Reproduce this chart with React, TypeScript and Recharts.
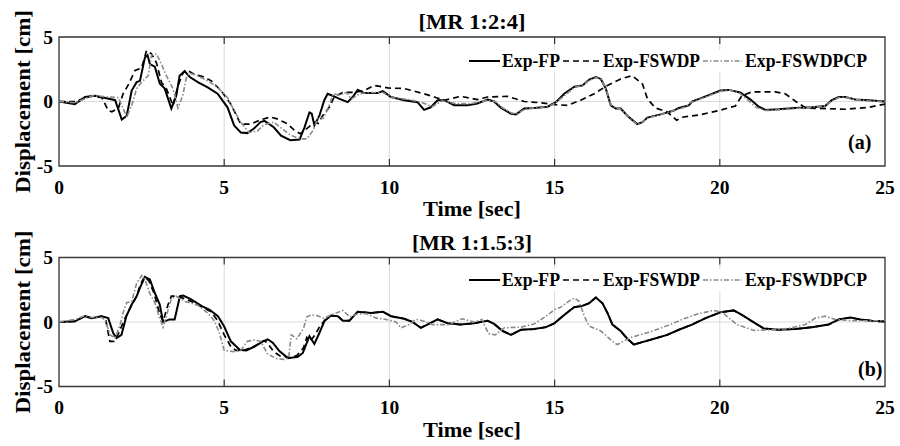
import { CartesianGrid, Legend, Line, LineChart, ReferenceArea, ReferenceLine, XAxis, YAxis } from "recharts";

const serif = "'Liberation Serif', 'Times New Roman', serif";

const xTicks = [0, 5, 10, 15, 20, 25];
const yTicks = [-5, 0, 5];

// [time s, displacement cm]
const topFP: [number, number][] = [
  [0, 0], [0.48, -0.2], [0.79, 0.35], [1.09, 0.45], [1.44, 0.25], [1.7, 0.1], [1.9, -1.4], [2.05, -1.1],
  [2.2, 0.85], [2.35, 1.5], [2.45, 1.6], [2.6, 3.4], [2.68, 3.6], [2.75, 2.9], [2.9, 2.7], [3.05, 1.4],
  [3.2, 1.0], [3.4, -0.55], [3.55, 0.45], [3.65, 2.0], [3.8, 2.35], [3.96, 1.9], [4.2, 1.5], [4.5, 1.1],
  [4.8, 0.6], [5.1, -0.45], [5.3, -1.85], [5.5, -2.4], [5.7, -2.45], [5.9, -2.1], [6.1, -1.6], [6.22, -1.5],
  [6.5, -2.0], [6.72, -2.65], [7.0, -3.0], [7.28, -2.95], [7.43, -2.0], [7.58, -0.85], [7.65, -0.95],
  [7.73, -1.85], [7.88, -1.1], [8.03, 0.1], [8.13, 0.6], [8.28, 0.45], [8.49, 0.2], [8.74, -0.05],
  [8.89, 0.35], [9.04, 0.9], [9.24, 0.65], [9.64, 0.65], [9.8, 0.8], [10.05, 0.35], [10.45, 0.1],
  [10.85, -0.05], [11.05, -0.65], [11.25, -0.45], [11.46, 0.1], [11.66, 0.1], [11.96, -0.3], [12.36, -0.3],
  [12.66, -0.15], [12.97, 0.15], [13.17, 0], [13.38, -0.5], [13.68, -0.95], [13.83, -1.0], [14.08, -0.55],
  [14.38, -0.5], [14.79, -0.4], [15.04, -0.05], [15.29, 0.6], [15.6, 1.15], [15.85, 1.25], [16.05, 1.7],
  [16.25, 1.9], [16.4, 1.75], [16.55, 1.0], [16.7, -0.3], [16.85, -0.55], [17.0, -0.55], [17.2, -1.1],
  [17.5, -1.75], [17.66, -1.6], [17.81, -1.25], [18.21, -1.0], [18.61, -0.7], [18.76, -0.5], [19.06, -0.3],
  [19.16, 0], [19.57, 0.4], [20.02, 0.85], [20.27, 0.9], [20.62, 0.7], [20.93, 0.15], [21.18, -0.4],
  [21.38, -0.65], [21.78, -0.6], [22.28, -0.5], [22.79, -0.45], [23.19, -0.35], [23.39, 0.1], [23.6, 0.35],
  [23.8, 0.35], [24.1, 0.15], [24.5, 0.1], [25, 0],
];

const topFSWDP: [number, number][] = [
  [0, 0], [0.5, 0], [1.0, 0.45], [1.3, 0.3], [1.49, -0.7], [1.6, -0.8], [1.8, -0.5], [1.94, 0.6], [2.1, 1.3],
  [2.3, 2.4], [2.5, 2.6], [2.65, 3.95], [2.8, 3.7], [2.95, 3.0], [3.1, 1.5], [3.25, 1.0], [3.45, -0.3],
  [3.6, 1.2], [3.75, 2.2], [3.86, 2.45], [4.1, 2.1], [4.4, 1.9], [4.61, 1.6], [4.9, 0.85], [5.2, -0.2],
  [5.5, -1.75], [5.8, -1.75], [6.12, -1.4], [6.4, -1.2], [6.6, -1.35], [6.9, -1.7], [7.13, -2.25], [7.3, -2.5],
  [7.5, -2.1], [7.73, -1.6], [7.85, -1.7], [7.98, -1.1], [8.18, -0.45], [8.33, 0.35], [8.59, 0.7], [8.94, 0.7],
  [9.24, 0.85], [9.54, 1.25], [9.95, 1.05], [10.45, 1.0], [11.05, 0.6], [11.36, 0.35], [11.66, 0.1],
  [12.16, 0.4], [12.66, 0.15], [12.97, 0.35], [13.58, 0.4], [14.08, 0], [14.6, -0.1], [15.04, -0.25],
  [15.39, -0.3], [15.79, 0.1], [16.2, 0.6], [16.6, 1.25], [17.0, 1.75], [17.35, 2.0], [17.66, 1.35],
  [17.81, 0.2], [18.05, -0.5], [18.41, -0.8], [18.69, -1.45], [18.9, -1.2], [19.36, -1.05], [19.97, -0.7],
  [20.47, -0.35], [20.67, 0.45], [20.98, 0.75], [21.68, 0.75], [21.98, 0.6], [22.3, 0.0], [22.6, -0.5],
  [23.8, -0.6], [24.5, -0.45], [25, -0.2],
];

const topFSWDPCP: [number, number][] = [
  [0, 0], [0.5, -0.1], [1.0, 0.45], [1.5, 0.35], [1.8, 0.3], [2.05, -1.2], [2.2, -0.3], [2.35, 1.0], [2.5, 1.5],
  [2.7, 2.0], [2.8, 3.6], [2.95, 3.7], [3.1, 2.9], [3.25, 2.0], [3.45, 1.0], [3.6, -0.5], [3.75, 0.5],
  [3.85, 1.8], [3.95, 2.2], [4.2, 2.0], [4.5, 1.6], [4.8, 1.1], [5.1, 0.3], [5.3, -0.7], [5.5, -1.6],
  [5.75, -2.4], [6.0, -2.3], [6.2, -1.8], [6.5, -1.6], [6.75, -2.1], [7.0, -2.6], [7.3, -2.9], [7.5, -2.9],
  [7.7, -2.2], [7.85, -1.2], [8.0, -1.3], [8.15, -0.5], [8.3, 0.6], [8.5, 0.5], [8.7, 0.7], [8.85, 0.2],
  [9.1, 0.6], [9.4, 0.7], [9.8, 0.7], [10.1, 0.3], [10.6, 0.15], [11.0, -0.1], [11.3, -0.4], [11.6, 0.05],
  [12.0, -0.15], [12.5, -0.15], [12.97, 0.1], [13.2, 0], [13.4, -0.45], [13.7, -0.9], [13.85, -0.95],
  [14.1, -0.6], [14.4, -0.5], [14.8, -0.4], [15.0, -0.15], [15.3, 0.45], [15.6, 1.1], [15.85, 1.25],
  [16.05, 1.65], [16.25, 1.85], [16.4, 1.75], [16.55, 1.0], [16.7, -0.25], [16.85, -0.5], [17.0, -0.6],
  [17.2, -1.1], [17.5, -1.8], [17.66, -1.6], [17.81, -1.3], [18.21, -1.0], [18.61, -0.7], [19.0, -0.4],
  [19.1, -0.1], [19.57, 0.35], [20.02, 0.8], [20.27, 0.9], [20.6, 0.65], [20.85, 0.1], [21.1, -0.45],
  [21.38, -0.7], [21.78, -0.65], [22.28, -0.55], [22.79, -0.45], [23.19, -0.35], [23.39, 0.05], [23.6, 0.3],
  [23.8, 0.35], [24.1, 0.15], [24.5, 0.05], [25, 0],
];

const botFP: [number, number][] = [
  [0, 0], [0.48, 0.05], [0.79, 0.45], [0.99, 0.3], [1.29, 0.45], [1.49, 0.3], [1.64, -0.85], [1.74, -1.25],
  [1.89, -1.0], [2.04, 0.45], [2.2, 1.35], [2.35, 2.0], [2.45, 2.65], [2.6, 3.5], [2.75, 3.3], [2.9, 2.25],
  [3.05, 1.35], [3.15, 0], [3.35, 0.2], [3.5, 0.2], [3.66, 2.0], [3.76, 2.05], [4.0, 1.75], [4.31, 1.25],
  [4.56, 0.95], [4.81, 0.45], [5.0, -0.35], [5.2, -1.5], [5.47, -2.15], [5.67, -2.2], [5.92, -1.9],
  [6.17, -1.5], [6.32, -1.35], [6.47, -1.6], [6.67, -2.25], [6.93, -2.8], [7.23, -2.7], [7.38, -2.4],
  [7.58, -1.1], [7.73, -1.7], [7.88, -0.85], [8.03, 0.05], [8.23, 0.5], [8.44, 0.45], [8.59, 0.1],
  [8.79, 0.1], [9.04, 0.8], [9.44, 0.7], [9.8, 0.8], [10.05, 0.45], [10.45, 0.25], [10.7, 0], [10.95, -0.45],
  [11.15, -0.2], [11.46, 0.2], [11.76, -0.1], [12.16, -0.2], [12.56, -0.1], [12.97, 0.1], [13.17, -0.15],
  [13.43, -0.7], [13.68, -1.0], [13.98, -0.6], [14.38, -0.55], [14.74, -0.4], [14.99, -0.1], [15.29, 0.55],
  [15.59, 1.15], [15.84, 1.25], [16.04, 1.45], [16.25, 1.9], [16.45, 1.45], [16.6, 0.7], [16.75, -0.2],
  [17.0, -0.7], [17.2, -1.3], [17.4, -1.75], [17.6, -1.6], [18.01, -1.3], [18.41, -1.0], [18.76, -0.6],
  [19.16, -0.2], [19.57, 0.3], [20.02, 0.75], [20.42, 0.9], [20.67, 0.55], [20.98, 0.05], [21.33, -0.5],
  [21.78, -0.6], [22.28, -0.55], [22.79, -0.4], [23.29, -0.2], [23.6, 0.2], [23.95, 0.35], [24.25, 0.2],
  [24.6, 0.1], [25, 0.05],
];

const botFSWDP: [number, number][] = [
  [0, 0], [0.48, 0.05], [0.79, 0.45], [0.99, 0.3], [1.29, 0.45], [1.42, 0.1], [1.54, -1.5], [1.66, -1.5],
  [1.8, -0.9], [2.0, 0.3], [2.2, 1.3], [2.35, 2.0], [2.45, 2.8], [2.58, 3.5], [2.72, 3.2], [2.88, 2.2],
  [3.05, 0.6], [3.15, 0.05], [3.3, 1.35], [3.4, 2.0], [3.6, 2.0], [4.0, 1.6], [4.3, 1.2], [4.6, 0.8],
  [4.8, 0.1], [5.0, -1.0], [5.2, -1.9], [5.35, -2.2], [5.6, -2.2], [5.9, -1.9], [6.2, -1.45], [6.3, -1.6],
  [6.5, -2.3], [6.7, -2.65], [7.0, -2.75], [7.2, -2.6], [7.4, -2.0], [7.5, -1.2], [7.6, -1.5], [7.75, -1.0],
  [7.9, -0.3], [8.1, 0.3], [8.23, 0.5], [8.44, 0.45], [8.59, 0.1], [8.79, 0.1], [9.04, 0.8], [9.44, 0.7],
  [9.8, 0.8], [10.05, 0.45], [10.45, 0.25], [10.7, 0], [10.95, -0.45], [11.15, -0.2], [11.46, 0.2],
  [11.76, -0.1], [12.16, -0.2], [12.56, -0.1], [12.97, 0.1], [13.17, -0.15], [13.43, -0.7], [13.68, -1.0],
  [13.98, -0.6], [14.38, -0.55], [14.74, -0.4], [14.99, -0.1], [15.29, 0.55], [15.59, 1.15], [15.84, 1.25],
  [16.04, 1.45], [16.25, 1.9], [16.45, 1.45], [16.6, 0.7], [16.75, -0.2], [17.0, -0.7], [17.2, -1.3],
  [17.4, -1.75], [17.6, -1.6], [18.01, -1.3], [18.41, -1.0], [18.76, -0.6], [19.16, -0.2], [19.57, 0.3],
  [20.02, 0.75], [20.42, 0.9], [20.67, 0.55], [20.98, 0.05], [21.33, -0.5], [21.78, -0.6], [22.28, -0.55],
  [22.79, -0.4], [23.29, -0.2], [23.6, 0.2], [23.95, 0.35], [24.25, 0.2], [24.6, 0.1], [25, 0.05],
];

const botFSWDPCP: [number, number][] = [
  [0, 0], [0.5, 0.2], [0.8, 0.5], [1.0, 0.35], [1.3, 0.35], [1.4, 0.1], [1.55, -1.0], [1.7, -1.25],
  [1.85, -0.2], [1.95, 0.8], [2.05, 1.5], [2.2, 1.6], [2.35, 3.0], [2.5, 3.6], [2.6, 3.3], [2.75, 2.2],
  [2.9, 1.5], [3.05, 0.3], [3.15, -0.4], [3.3, 0.9], [3.4, 1.8], [3.55, 2.0], [3.8, 1.6], [4.2, 1.3],
  [4.5, 0.7], [4.7, 0.1], [4.85, -0.8], [5.0, -2.2], [5.3, -2.3], [5.5, -2.2], [5.7, -1.5], [5.9, -1.4],
  [6.1, -1.5], [6.32, -2.5], [6.6, -2.85], [6.8, -2.9], [6.95, -2.8], [7.03, -1.0], [7.2, -1.3], [7.4, -0.5],
  [7.5, 0.4], [7.65, 0.55], [7.8, 0.5], [8.0, 0.3], [8.2, 0.5], [8.59, 0.9], [8.8, 0.4], [9.0, 0.6],
  [9.3, 0.65], [9.6, 0.3], [9.9, 0.2], [10.2, 0.0], [10.35, -0.45], [10.6, -0.2], [10.8, 0.2], [11.0, 0.1],
  [11.3, -0.2], [11.8, -0.2], [12.2, 0.25], [12.57, 0.0], [12.8, 0.2], [13.0, -0.9], [13.2, -1.0],
  [13.48, -0.45], [13.98, -0.4], [14.38, -0.15], [14.74, 0.45], [14.99, 0.95], [15.19, 1.15], [15.5, 1.75],
  [15.6, 1.85], [15.74, 1.6], [15.9, 0.45], [16.04, -0.3], [16.4, -0.7], [16.8, -1.6], [16.9, -1.75],
  [17.3, -1.2], [17.85, -0.8], [18.4, -0.3], [18.86, 0.2], [19.3, 0.6], [19.8, 0.9], [20.07, 0.75],
  [20.52, -0.2], [21.03, -0.65], [21.58, -0.6], [22.08, -0.5], [22.59, -0.2], [22.89, 0.3], [23.19, 0.45],
  [23.49, 0.2], [24.0, 0.1], [25, 0.1],
];

const seriesStyle = [
  { name: "Exp-FP", stroke: "#000", dash: undefined, width: 2 },
  { name: "Exp-FSWDP", stroke: "#000", dash: "6 4", width: 1.7 },
  { name: "Exp-FSWDPCP", stroke: "#8a8a8a", dash: "5 2 1.5 2", width: 1.6 },
];

const toRows = (pts: [number, number][]) => pts.map(([t, v]) => ({ t, v }));

function LegendBox() {
  // sample line, then label, for each series
  const items = [
    { ...seriesStyle[0], x1: 2, x2: 33, tx: 35, w: 58 },
    { ...seriesStyle[1], x1: 96, x2: 133, tx: 136, w: 97 },
    { ...seriesStyle[2], x1: 236, x2: 275, tx: 278, w: 122 },
  ];
  return (
    <svg width={410} height={22} style={{ display: "block", background: "#fff" }}>
      {items.map((it) => (
        <g key={it.name}>
          <line x1={it.x1} x2={it.x2} y1={11} y2={11} stroke={it.stroke} strokeWidth={it.width} strokeDasharray={it.dash} />
          <text x={it.tx} y={17} fontFamily={serif} fontWeight="bold" fontSize={18} fill="#000" textLength={it.w} lengthAdjust="spacingAndGlyphs">
            {it.name}
          </text>
        </g>
      ))}
    </svg>
  );
}

function Panel({ series, top, legendTop }: { series: [number, number][][]; top: number; legendTop: number }) {
  const plotH = 129;
  return (
    <LineChart width={900} height={223} margin={{ top, right: 15, left: 0, bottom: 0 }}>
      <CartesianGrid stroke="#dadada" strokeWidth={1} />
      <XAxis
        dataKey="t"
        type="number"
        domain={[0, 25]}
        ticks={xTicks}
        axisLine={false}
        tickLine={false}
        tickSize={0}
        tickMargin={14}
        height={223 - top - plotH}
        tick={{ fontFamily: serif, fontWeight: "bold", fontSize: 19.5, fill: "#000" }}
        allowDataOverflow
      />
      <YAxis
        type="number"
        domain={[-5, 5]}
        ticks={yTicks}
        axisLine={false}
        tickLine={false}
        tickSize={0}
        tickMargin={6}
        width={59}
        interval={0}
        tick={{ fontFamily: serif, fontWeight: "bold", fontSize: 19.5, fill: "#000" }}
      />
      {xTicks.slice(1, -1).map((x) => (
        <ReferenceLine key={`tt${x}`} segment={[{ x, y: 5 }, { x, y: 4.45 }]} stroke="#333" strokeWidth={1.2} />
      ))}
      {xTicks.slice(1, -1).map((x) => (
        <ReferenceLine key={`tb${x}`} segment={[{ x, y: -5 }, { x, y: -4.45 }]} stroke="#333" strokeWidth={1.2} />
      ))}
      <ReferenceLine segment={[{ x: 0, y: 0 }, { x: 0.2, y: 0 }]} stroke="#333" strokeWidth={1.2} />
      <ReferenceLine segment={[{ x: 24.8, y: 0 }, { x: 25, y: 0 }]} stroke="#333" strokeWidth={1.2} />
      {series.map((pts, i) => (
        <Line
          key={seriesStyle[i].name}
          data={toRows(pts)}
          dataKey="v"
          name={seriesStyle[i].name}
          type="linear"
          stroke={seriesStyle[i].stroke}
          strokeWidth={seriesStyle[i].width}
          strokeDasharray={seriesStyle[i].dash}
          dot={false}
          activeDot={false}
          isAnimationActive={false}
        />
      ))}
      <ReferenceArea x1={0} x2={25} y1={-5} y2={5} fill="none" stroke="#3a3a3a" strokeWidth={1.3} ifOverflow="visible" />
      <Legend
        layout="vertical"
        align="center"
        verticalAlign="middle"
        wrapperStyle={{ left: 467, top: legendTop, width: 410 }}
        content={() => <LegendBox />}
      />
    </LineChart>
  );
}

export default function App() {
  const txt = { fontFamily: serif, fontWeight: "bold" as const, fill: "#000" };
  return (
    <div style={{ position: "absolute", left: 0, top: 0, width: 900, height: 446, background: "#fff" }}>
      <div style={{ position: "absolute", left: 0, top: 0 }}>
        <Panel series={[topFP, topFSWDP, topFSWDPCP]} top={37} legendTop={50} />
      </div>
      <div style={{ position: "absolute", left: 0, top: 223 }}>
        <Panel series={[botFP, botFSWDP, botFSWDPCP]} top={34.5} legendTop={46} />
      </div>
      <svg width={900} height={446} style={{ position: "absolute", left: 0, top: 0, pointerEvents: "none" }}>
        <text {...txt} x={472} y={29} fontSize={21} textAnchor="middle" textLength={107} lengthAdjust="spacingAndGlyphs">[MR 1:2:4]</text>
        <text {...txt} x={472} y={216} fontSize={21} textAnchor="middle" textLength={98} lengthAdjust="spacingAndGlyphs">Time [sec]</text>
        <text {...txt} x={472} y={250} fontSize={21} textAnchor="middle" textLength={120} lengthAdjust="spacingAndGlyphs">[MR 1:1.5:3]</text>
        <text {...txt} x={472} y={437} fontSize={21} textAnchor="middle" textLength={98} lengthAdjust="spacingAndGlyphs">Time [sec]</text>
        <text {...txt} x={0} y={0} fontSize={22} textAnchor="middle" textLength={183} lengthAdjust="spacingAndGlyphs" transform="translate(30 101.5) rotate(-90)">Displacement [cm]</text>
        <text {...txt} x={0} y={0} fontSize={22} textAnchor="middle" textLength={183} lengthAdjust="spacingAndGlyphs" transform="translate(30 322) rotate(-90)">Displacement [cm]</text>
        <text {...txt} x={848} y={149} fontSize={20}>(a)</text>
        <text {...txt} x={858} y={376} fontSize={20}>(b)</text>
      </svg>
    </div>
  );
}
